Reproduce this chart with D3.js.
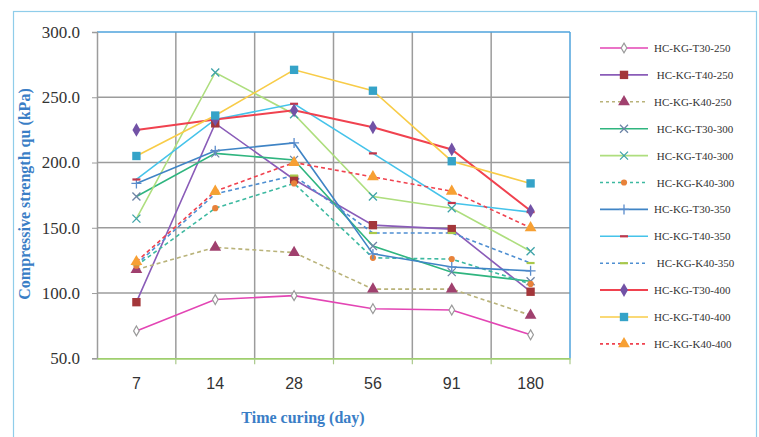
<!DOCTYPE html>
<html>
<head>
<meta charset="utf-8">
<script src="https://cdn.jsdelivr.net/npm/d3@7"></script>
<style>
  body { margin: 0; background: #fff; }
  svg { display: block; }
  text { white-space: pre; }
</style>
</head>
<body>
<div id="chart"></div>
<script>
// curing days (categories)
const days = ['7', '14', '28', '56', '91', '180'];
const yTicks = [50, 100, 150, 200, 250, 300];

// compressive strength qu (kPa)
const t30_250 = [71, 95, 98, 88, 87, 68];
const t40_250 = [93, 230, 187, 152, 149, 101];
const k40_250 = [118, 135, 131, 103, 103, 83];
const t30_300 = [174, 207, 202, 136, 116, 109];
const t40_300 = [157, 269, 237, 174, 165, 132];
const k40_300 = [121, 165, 184, 127, 126, 107];
const t30_350 = [184, 209, 215, 130, 120, 117];
const t40_350 = [187, 233, 245, 207, 169, 162];
const k40_350 = [122, 176, 190, 146, 146, 123];
const t30_400 = [225, 233, 240, 227, 210, 163];
const t40_400 = [205, 236, 271, 255, 201, 184];
const k40_400 = [124, 178, 200, 189, 178, 150];

const seriesNames = [
  'HC-KG-T30-250', ' HC-KG-T40-250', 'HC-KG-K40-250', ' HC-KG-T30-300',
  ' HC-KG-T40-300', ' HC-KG-K40-300', 'HC-KG-T30-350', 'HC-KG-T40-350',
  ' HC-KG-K40-350', 'HC-KG-T30-400', 'HC-KG-T40-400', 'HC-KG-K40-400'
];
const seriesValues = [t30_250, t40_250, k40_250, t30_300, t40_300, k40_300,
  t30_350, t40_350, k40_350, t30_400, t40_400, k40_400];

// line / marker styles, same order as the series
const styles = [
  { line: '#e345b4', dash: null, mark: 'odiamond', mc: '#9a9a9a', w: 1.6 },
  { line: '#8a5cb8', dash: null, mark: 'square', mc: '#a3363a', w: 1.6 },
  { line: '#b9b37a', dash: '4,3', mark: 'triangle', mc: '#a0406e', w: 1.6 },
  { line: '#2fb57f', dash: null, mark: 'x', mc: '#6d84a6', w: 1.6 },
  { line: '#aede7e', dash: null, mark: 'x', mc: '#3ea3a8', w: 1.6 },
  { line: '#3cb9a0', dash: '4,3', mark: 'circle', mc: '#e8823a', w: 1.6 },
  { line: '#3f84c5', dash: null, mark: 'plus', mc: '#5a8ccc', w: 1.6 },
  { line: '#45c3ea', dash: null, mark: 'dash', mc: '#c2364a', w: 1.6 },
  { line: '#4f8fd2', dash: '4,3', mark: 'dash', mc: '#a9c84a', w: 1.6 },
  { line: '#f0424f', dash: null, mark: 'diamond', mc: '#7252a6', w: 2 },
  { line: '#f8cc48', dash: null, mark: 'square', mc: '#35a3c8', w: 1.6 },
  { line: '#f0424f', dash: '4,3', mark: 'triangle', mc: '#f7a033', w: 1.6 }
];

const W = 759, H = 437;
const svg = d3.select('#chart').append('svg')
  .attr('width', W).attr('height', H);

// outer frame
svg.append('rect')
  .attr('x', 13.5).attr('y', 11.5).attr('width', 743).attr('height', 440)
  .attr('fill', 'none').attr('stroke', '#8fcdea').attr('stroke-width', 1.2);

const plot = { left: 97, right: 570, top: 32, bottom: 358.3 };

const x = d3.scaleBand().domain(days).range([plot.left, plot.right]);
const y = d3.scaleLinear().domain([50, 300]).range([plot.bottom, plot.top]);

// grid
const grid = svg.append('g');
grid.selectAll('line.h')
  .data(yTicks.filter(v => v > 50 && v < 300))
  .join('line')
  .attr('x1', plot.left).attr('x2', plot.right)
  .attr('y1', d => y(d)).attr('y2', d => y(d))
  .attr('stroke', '#9c9c9c').attr('stroke-width', 1.5);
grid.selectAll('line.v')
  .data(days.slice(1))
  .join('line')
  .attr('x1', d => x(d)).attr('x2', d => x(d))
  .attr('y1', plot.top).attr('y2', plot.bottom)
  .attr('stroke', '#9c9c9c').attr('stroke-width', 1.5);

// plot border: top/right blue, left grey
svg.append('line').attr('x1', plot.left).attr('x2', plot.right)
  .attr('y1', plot.top).attr('y2', plot.top)
  .attr('stroke', '#4fa3dc').attr('stroke-width', 1.5);
svg.append('line').attr('x1', plot.right).attr('x2', plot.right)
  .attr('y1', plot.top).attr('y2', plot.bottom)
  .attr('stroke', '#4fa3dc').attr('stroke-width', 1.5);

// y axis
const yAxis = svg.append('g')
  .attr('transform', `translate(${plot.left},0)`)
  .call(d3.axisLeft(y).tickValues(yTicks).tickFormat(d3.format('.1f')).tickSize(5).tickPadding(12));
yAxis.select('.domain').attr('stroke', '#9c9c9c').attr('stroke-width', 1.5);
yAxis.selectAll('.tick line').attr('stroke', '#9c9c9c');
yAxis.selectAll('.tick text')
  .attr('font-family', '"Liberation Serif", "Times New Roman", serif')
  .attr('font-size', 17).attr('fill', '#333');

// x axis
const xAxis = svg.append('g')
  .attr('transform', `translate(0,${plot.bottom})`)
  .call(d3.axisBottom(x).tickSize(0).tickPadding(19));
xAxis.select('.domain').attr('stroke', '#9fcf6e').attr('stroke-width', 1.8);
xAxis.selectAll('.tick text')
  .attr('font-family', '"Liberation Sans", Arial, sans-serif')
  .attr('font-size', 16).attr('fill', '#333');
svg.append('g').selectAll('line')
  .data(days.slice(1).map(d => x(d)).concat([plot.right]))
  .join('line')
  .attr('x1', d => d).attr('x2', d => d)
  .attr('y1', plot.bottom).attr('y2', plot.bottom + 6)
  .attr('stroke', '#a9c98a').attr('stroke-width', 1.2);

// axis titles
svg.append('text')
  .attr('x', 303).attr('y', 423)
  .attr('text-anchor', 'middle')
  .attr('font-family', '"Liberation Serif", "Times New Roman", serif')
  .attr('font-weight', 'bold').attr('font-size', 16)
  .attr('fill', '#3a7ec6')
  .text('Time curing (day)');
svg.append('text')
  .attr('transform', 'translate(30,194) rotate(-90)')
  .attr('text-anchor', 'middle')
  .attr('font-family', '"Liberation Serif", "Times New Roman", serif')
  .attr('font-weight', 'bold').attr('font-size', 16)
  .attr('fill', '#3a7ec6')
  .text('Compressive strength qu (kPa)');

// marker drawing
function drawMarker(g, type, color) {
  if (type === 'square') {
    g.append('path').attr('d', d3.symbol(d3.symbolSquare, 70)()).attr('fill', color);
  } else if (type === 'triangle') {
    g.append('path').attr('d', d3.symbol(d3.symbolTriangle, 60)()).attr('fill', color);
  } else if (type === 'diamond') {
    g.append('path').attr('d', d3.symbol(d3.symbolDiamond, 55)()).attr('fill', color);
  } else if (type === 'odiamond') {
    g.append('path').attr('d', d3.symbol(d3.symbolDiamond, 28)())
      .attr('fill', '#fff').attr('stroke', color).attr('stroke-width', 1.2);
  } else if (type === 'circle') {
    g.append('path').attr('d', d3.symbol(d3.symbolCircle, 30)()).attr('fill', color);
  } else if (type === 'x') {
    g.append('path').attr('d', 'M-4,-4L4,4M-4,4L4,-4')
      .attr('stroke', color).attr('stroke-width', 1.3).attr('fill', 'none');
  } else if (type === 'plus') {
    g.append('path').attr('d', 'M-5,0L5,0M0,-5L0,5')
      .attr('stroke', color).attr('stroke-width', 1.3).attr('fill', 'none');
  } else if (type === 'dash') {
    g.append('path').attr('d', 'M-4,0L4,0')
      .attr('stroke', color).attr('stroke-width', 2.2).attr('fill', 'none');
  }
}

const line = d3.line()
  .x((d, i) => x(days[i]) + x.bandwidth() / 2)
  .y(d => y(d));

const seriesG = svg.append('g');
seriesValues.forEach((vals, si) => {
  const st = styles[si];
  seriesG.append('path')
    .attr('d', line(vals))
    .attr('fill', 'none')
    .attr('stroke', st.line)
    .attr('stroke-width', st.w)
    .attr('stroke-dasharray', st.dash);
});
seriesValues.forEach((vals, si) => {
  const st = styles[si];
  vals.forEach((v, i) => {
    const g = seriesG.append('g')
      .attr('transform', `translate(${x(days[i]) + x.bandwidth() / 2},${y(v)})`);
    drawMarker(g, st.mark, st.mc);
  });
});

// legend
const legend = svg.append('g');
seriesNames.forEach((name, si) => {
  const st = styles[si];
  const ly = 48 + si * 26.9;
  legend.append('line')
    .attr('x1', 600).attr('x2', 648).attr('y1', ly).attr('y2', ly)
    .attr('stroke', st.line).attr('stroke-width', st.w)
    .attr('stroke-dasharray', st.dash ? '3,3' : null);
  drawMarker(legend.append('g').attr('transform', `translate(624,${ly})`), st.mark, st.mc);
  legend.append('text')
    .attr('x', 654).attr('y', ly + 4)
    .attr('font-family', '"Liberation Serif", "Times New Roman", serif')
    .attr('font-size', 11).attr('fill', '#333')
    .text(name);
});
</script>
</body>
</html>
